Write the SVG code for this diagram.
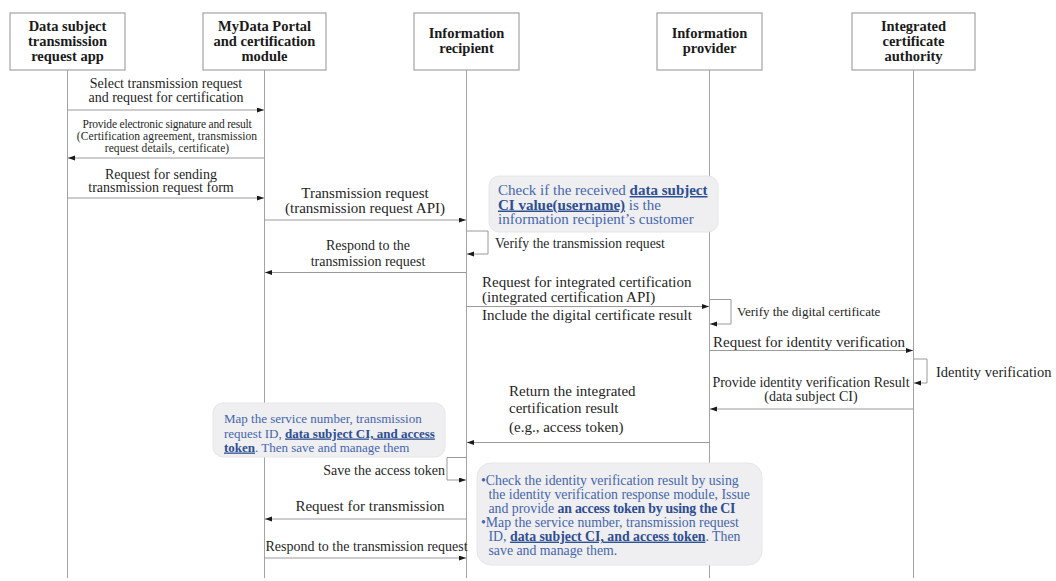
<svg xmlns="http://www.w3.org/2000/svg" width="1056" height="581" viewBox="0 0 1056 581">
  <defs>
    <marker id="ah" markerUnits="userSpaceOnUse" markerWidth="8" markerHeight="6" refX="7" refY="2.5" orient="auto">
      <path d="M0,0 L7,2.5 L0,5 z" fill="#1a1a1a"/>
    </marker>
  </defs>
  <style>
    .box { fill: #fff; stroke: #a3a3a3; stroke-width: 1.2; }
    .life { stroke: #a3a3a3; stroke-width: 1; }
    .msg { stroke: #9a9a9a; stroke-width: 1; fill: none; marker-end: url(#ah); }
    .hd { font-family: "Liberation Serif", serif; font-weight: bold; font-size: 14.5px; fill: #1a1a1a; text-anchor: middle; }
    .t { font-family: "Liberation Serif", serif; font-size: 14px; fill: #1f1f1f; }
    .c { text-anchor: middle; }
    .note { fill: #efeff1; stroke: #e6e6e9; stroke-width: 1; }
    .bt { font-family: "Liberation Serif", serif; fill: #4566ad; }
    .bb { font-weight: bold; fill: #2e4e92; }
    .u { text-decoration: underline; }
  </style>
  <rect width="1056" height="581" fill="#fff"/>

  <!-- lifelines -->
  <g id="lifelines">
    <line class="life" x1="67.5" y1="70" x2="67.5" y2="578"/>
    <line class="life" x1="264.5" y1="70" x2="264.5" y2="578"/>
    <line class="life" x1="466.5" y1="70" x2="466.5" y2="578"/>
    <line class="life" x1="709.5" y1="70" x2="709.5" y2="578"/>
    <line class="life" x1="913.5" y1="70" x2="913.5" y2="578"/>
  </g>

  <!-- participants -->
  <g id="app">
    <rect class="box" x="10" y="13" width="115" height="57"/>
    <text class="hd" x="67.5" y="31">Data subject</text>
    <text class="hd" x="67.5" y="46">transmission</text>
    <text class="hd" x="67.5" y="61">request app</text>
  </g>
  <g id="portal">
    <rect class="box" x="203" y="13" width="123" height="57"/>
    <text class="hd" x="264.5" y="30.5">MyData Portal</text>
    <text class="hd" x="264.5" y="45.5">and certification</text>
    <text class="hd" x="264.5" y="60.5">module</text>
  </g>
  <g id="recipient">
    <rect class="box" x="414" y="13" width="105" height="57"/>
    <text class="hd" x="466.5" y="38">Information</text>
    <text class="hd" x="466.5" y="53">recipient</text>
  </g>
  <g id="provider">
    <rect class="box" x="657" y="13" width="105" height="57"/>
    <text class="hd" x="709.5" y="38">Information</text>
    <text class="hd" x="709.5" y="53">provider</text>
  </g>
  <g id="authority">
    <rect class="box" x="852" y="13" width="123" height="57"/>
    <text class="hd" x="913.5" y="30.5">Integrated</text>
    <text class="hd" x="913.5" y="45.5">certificate</text>
    <text class="hd" x="913.5" y="60.5">authority</text>
  </g>

  <!-- messages -->
  <g id="connectors">
    <path class="msg" d="M67.5,110 H264"/>
    <path class="msg" d="M264.5,158 H68"/>
    <path class="msg" d="M67.5,198 H264"/>
    <path class="msg" d="M264.5,220 H466"/>
    <path class="msg" d="M466.5,231 H488 V254 H467"/>
    <path class="msg" d="M466.5,272.5 H265"/>
    <path class="msg" d="M466.5,306.5 H709"/>
    <path class="msg" d="M709.5,299.5 H731 V324 H710"/>
    <path class="msg" d="M709.5,350.5 H913"/>
    <path class="msg" d="M913.5,359 H927 V383 H914"/>
    <path class="msg" d="M913.5,409 H710"/>
    <path class="msg" d="M709.5,442.5 H467"/>
    <path class="msg" d="M466.5,457.5 H447 V480 H466"/>
    <path class="msg" d="M466.5,519 H265"/>
    <path class="msg" d="M264.5,558 H466"/>
  </g>

  <!-- message labels -->
  <g id="labels">
    <text class="t c" x="166" y="87.5">Select transmission request</text>
    <text class="t c" x="166" y="101.5">and request for certification</text>

    <text class="t c" x="167" y="128" style="font-size:11.5px;letter-spacing:-0.2px">Provide electronic signature and result</text>
    <text class="t c" x="167" y="140" style="font-size:11.5px;letter-spacing:0.1px">(Certification agreement, transmission</text>
    <text class="t c" x="167" y="152" style="font-size:11.5px;letter-spacing:0.1px">request details, certificate)</text>

    <text class="t c" x="161" y="179">Request for sending</text>
    <text class="t c" x="161" y="192">transmission request form</text>

    <text class="t c" x="365" y="198" style="font-size:15px">Transmission request</text>
    <text class="t c" x="365" y="213" style="font-size:15px">(transmission request API)</text>

    <text class="t" x="495" y="248" style="font-size:13.7px">Verify the transmission request</text>

    <text class="t c" x="368" y="250">Respond to the</text>
    <text class="t c" x="368" y="266">transmission request</text>

    <text class="t" x="482" y="286.5" style="font-size:15px">Request for integrated certification</text>
    <text class="t" x="482" y="301.5" style="font-size:15px">(integrated certification API)</text>
    <text class="t" x="482" y="320" style="font-size:15px">Include the digital certificate result</text>

    <text class="t" x="737" y="316" style="font-size:13px">Verify the digital certificate</text>

    <text class="t c" x="809" y="346.5" style="font-size:15px">Request for identity verification</text>

    <text class="t" x="936" y="376.5" style="font-size:14.5px">Identity verification</text>

    <text class="t c" x="811" y="386.5">Provide identity verification Result</text>
    <text class="t c" x="811" y="401">(data subject CI)</text>

    <text class="t" x="509" y="396" style="font-size:15px">Return the integrated</text>
    <text class="t" x="509" y="413" style="font-size:15px">certification result</text>
    <text class="t" x="509" y="432" style="font-size:15px">(e.g., access token)</text>

    <text class="t" x="445" y="474.5" text-anchor="end">Save the access token</text>

    <text class="t c" x="370" y="511" style="font-size:15px">Request for transmission</text>

    <text class="t c" x="366.5" y="551">Respond to the transmission request</text>
  </g>

  <!-- notes -->
  <g id="note-check-customer">
    <rect class="note" x="489" y="176" width="229" height="56" rx="10"/>
    <text class="bt" x="498" y="195" font-size="15">Check if the received <tspan class="bb u">data subject</tspan></text>
    <text class="bt" x="498" y="209.5" font-size="15"><tspan class="bb u">CI value(username)</tspan> is the</text>
    <text class="bt" x="498" y="224" font-size="15">information recipient’s customer</text>
  </g>

  <g id="note-map-portal">
    <rect class="note" x="213" y="403" width="232" height="54" rx="10"/>
    <text class="bt" x="224" y="422.5" font-size="13">Map the service number, transmission</text>
    <text class="bt" x="224" y="437.5" font-size="13">request ID, <tspan class="bb u">data subject CI, and access</tspan></text>
    <text class="bt" x="224" y="451.5" font-size="13"><tspan class="bb u">token</tspan>. Then save and manage them</text>
  </g>

  <g id="note-issue-token">
    <rect class="note" x="477" y="463" width="285" height="102" rx="14"/>
    <text class="bt" x="481" y="485" font-size="13.8">•Check the identity verification result by using</text>
    <text class="bt" x="488.5" y="498.9" font-size="13.8">the identity verification response module, Issue</text>
    <text class="bt" x="488.5" y="512.8" font-size="13.8">and provide <tspan class="bb" style="letter-spacing:-0.2px">an access token by using the CI</tspan></text>
    <text class="bt" x="481" y="526.7" font-size="13.8">•Map the service number, transmission request</text>
    <text class="bt" x="488.5" y="540.6" font-size="13.8">ID, <tspan class="bb u">data subject CI, and access token</tspan>. Then</text>
    <text class="bt" x="488.5" y="554.5" font-size="13.8">save and manage them.</text>
  </g>
</svg>
